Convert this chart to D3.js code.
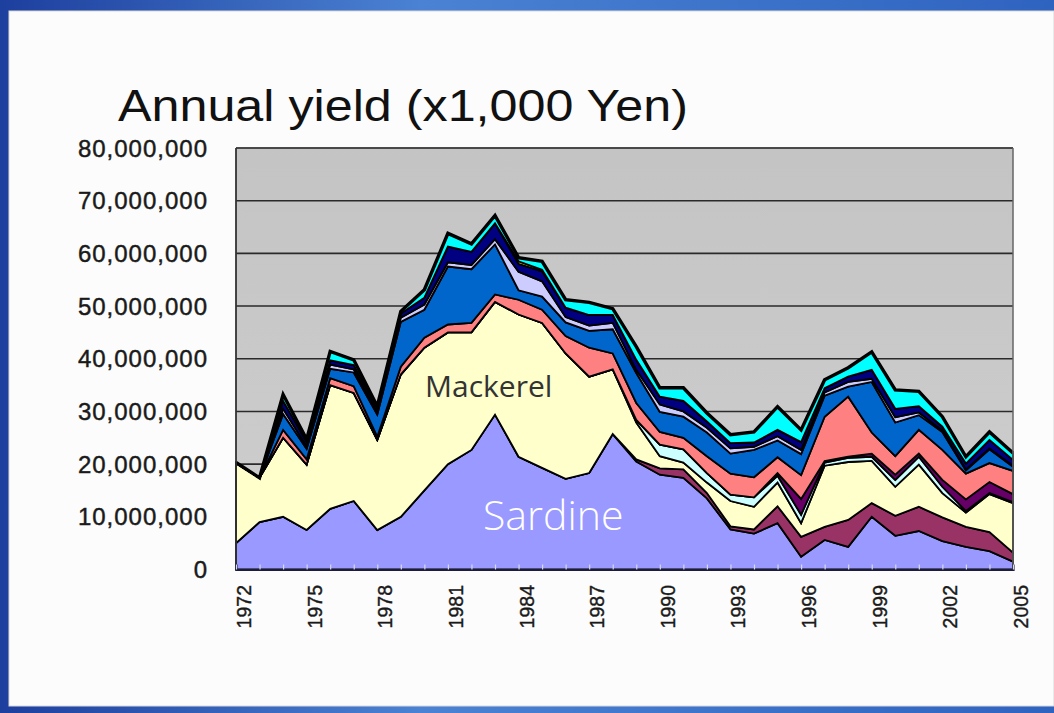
<!DOCTYPE html>
<html>
<head>
<meta charset="utf-8">
<script src="https://cdn.jsdelivr.net/npm/d3@7"></script>
<style>
  html, body { margin: 0; padding: 0; background: #2a55b5; }
  svg { display: block; }
  .ylab { font-family: "Liberation Sans", Arial, sans-serif; font-size: 24px; fill: #1a1a1a; stroke: #1a1a1a; stroke-width: 0.45px; letter-spacing: 1px; }
  .xlab { font-family: "Liberation Sans", Arial, sans-serif; font-size: 19.5px; fill: #1a1a1a; stroke: #1a1a1a; stroke-width: 0.4px; }
</style>
</head>
<body>
<script>
var width = 1054, height = 713;

// values in millions (axis is in x1,000 Yen)
var years = d3.range(1972, 2006);
var yTicks = [0, 10e6, 20e6, 30e6, 40e6, 50e6, 60e6, 70e6, 80e6];
var xTickYears = [1972, 1975, 1978, 1981, 1984, 1987, 1990, 1993, 1996, 1999, 2002, 2005];

var sardine  = [5, 9, 10, 7.5, 11.5, 13, 7.5, 10, 15, 20, 22.7, 29.4, 21.4, 19.3, 17.2, 18.3, 25.7, 20.5, 18, 17.4, 13.5, 7.6, 6.8, 8.8, 2.4, 5.6, 4.3, 10, 6.4, 7.3, 5.4, 4.3, 3.5, 1.5];
var sp2      = [0, 0, 0, 0, 0, 0, 0, 0, 0, 0, 0, 0, 0, 0, 0, 0, 0, 0.4, 1.2, 1.6, 1.0, 0.6, 0.8, 3.2, 3.8, 2.5, 5.1, 2.6, 3.8, 4.6, 4.5, 3.8, 3.6, 1.7];
var mackerel = [15.2, 8.4, 15, 12.4, 23.5, 20.5, 17.1, 27, 27.1, 25, 22.3, 21.4, 27, 27.5, 23.8, 18.3, 12.3, 7, 2.3, 1.3, 2, 4.8, 4.3, 4.5, 2.6, 11.6, 11, 8, 5.5, 8, 4.6, 2.7, 7.2, 9.4];
var sp4      = [0, 0, 0, 0, 0, 0, 0, 0, 0, 0, 0, 0, 0, 0, 0, 0, 0, 0.5, 2.2, 2.5, 1.8, 1.2, 1.8, 1.3, 1.6, 0.6, 0.8, 0.8, 1.3, 1.5, 1.2, 0.3, 0.2, 0.2];
var sp5      = [0, 0, 0, 0, 0, 0, 0, 0, 0, 0, 0, 0, 0, 0, 0, 0, 0, 0, 0, 0, 0, 0, 0, 0.5, 3.0, 0.3, 0.2, 0.6, 1.0, 0.6, 1.3, 2.2, 2.1, 1.5];
var sp6      = [0, 0, 1.5, 1, 1.3, 1.3, 0.6, 1.5, 1.9, 1.5, 1.8, 1.4, 2.8, 2.5, 3.3, 5.5, 3, 3.2, 2.4, 2.2, 3.2, 4, 3.8, 3, 4.5, 8.4, 11.4, 4, 3.5, 4.5, 5.7, 4.9, 3.6, 4.4];
var sp7      = [0, 0, 3, 2, 1.8, 2.6, 4.2, 8.5, 5.3, 11, 10.2, 9.5, 1.8, 2.5, 2.6, 3.2, 4.6, 5.7, 3.8, 4, 4.5, 3.8, 5.2, 3.2, 4, 4, 1.9, 9.6, 6.4, 2.8, 3.4, 0.6, 2.6, 0.8];
var sp8      = [0, 0, 1, 0.5, 0.8, 0.6, 0.4, 0.8, 1, 0.8, 0.8, 1, 3.5, 2.9, 1, 1, 1.2, 0.6, 1.4, 1, 0.9, 1, 0.6, 0.8, 0.8, 0.6, 0.9, 0.6, 1, 0.5, 0.3, 0.2, 0.2, 0.2];
var sp9      = [0, 0, 1.5, 0.8, 0.8, 0.8, 0.8, 0.8, 1.3, 3, 2.5, 3, 1.5, 1.9, 1.8, 2, 1.5, 1.9, 1.5, 2, 1.2, 1, 0.8, 1.2, 1.5, 0.8, 1, 1.7, 1.6, 1.2, 0.7, 1.1, 1.6, 1.1];
var sp11     = [0, 0, 0, 0, 0, 0, 0, 0, 0, 0, 0, 0, 0.5, 0.3, 0, 0, 0, 0, 0, 0, 0, 0, 0, 0, 0, 0, 0, 0, 0, 0, 0, 0, 0, 0];
var sp12     = [0.1, 0, 1.2, 0.5, 1.7, 1, 0.4, 0.4, 1.5, 2.5, 1.5, 1.5, 0.7, 1.6, 1.5, 2.4, 1.2, 2.5, 1.7, 2.5, 1.6, 1.6, 2.0, 4.4, 2.3, 1.6, 1.7, 3.4, 3.6, 2.8, 1.9, 1.3, 1.5, 1.3];

var seriesNames = ["sardine", "sp2", "mackerel", "sp4", "sp5", "sp6", "sp7", "sp8", "sp9", "sp11", "sp12"];
var seriesValues = [sardine, sp2, mackerel, sp4, sp5, sp6, sp7, sp8, sp9, sp11, sp12];
var seriesColors = ["#9999FF", "#993366", "#FFFFCC", "#CCFFFF", "#660066", "#FF8080", "#0066CC", "#CCCCFF", "#000080", "#FFFF00", "#00FFFF"];

var table = years.map(function(yr, i) {
  var row = {year: yr};
  seriesNames.forEach(function(k, j) { row[k] = seriesValues[j][i] * 1e6; });
  return row;
});

var svg = d3.select("body").append("svg")
    .attr("width", width)
    .attr("height", height);

var defs = svg.append("defs");
var bg = defs.append("linearGradient").attr("id", "bg").attr("x1", 0).attr("x2", 1).attr("y1", 0).attr("y2", 0);
bg.append("stop").attr("offset", "0%").attr("stop-color", "#1d3f9e");
bg.append("stop").attr("offset", "40%").attr("stop-color", "#4b82d3");
bg.append("stop").attr("offset", "100%").attr("stop-color", "#2f63c0");
var pg = defs.append("linearGradient").attr("id", "plotbg").attr("x1", 0).attr("x2", 0).attr("y1", 0).attr("y2", 1);
pg.append("stop").attr("offset", "0%").attr("stop-color", "#c4c4c4");
pg.append("stop").attr("offset", "100%").attr("stop-color", "#cecece");

// blue frame + white slide panel
svg.append("rect").attr("width", width).attr("height", height).attr("fill", "url(#bg)");
svg.append("rect")
    .attr("x", 9).attr("y", 11)
    .attr("width", width - 9).attr("height", 695)
    .attr("fill", "#fcfcfc")
    .attr("stroke", "#d8d8d8");

var margin = {top: 148, right: 1054 - 1013, bottom: 713 - 569.5, left: 236};

var x = d3.scaleLinear()
    .domain([1972, 2005])
    .range([margin.left, width - margin.right]);

var y = d3.scaleLinear()
    .domain([0, 80e6])
    .range([height - margin.bottom, margin.top]);

// plot area
svg.append("rect")
    .attr("x", x(1972)).attr("y", y(80e6))
    .attr("width", x(2005) - x(1972)).attr("height", y(0) - y(80e6))
    .attr("fill", "url(#plotbg)");

// gridlines
svg.append("g")
  .selectAll("line").data(yTicks.slice(1)).enter().append("line")
    .attr("x1", x(1972)).attr("x2", x(2005))
    .attr("y1", d => y(d)).attr("y2", d => y(d))
    .attr("stroke", "#2a2a2a")
    .attr("stroke-width", 1.6);

var stack = d3.stack().keys(seriesNames);
var layers = stack(table);

var area = d3.area()
    .x(d => x(d.data.year))
    .y0(d => y(d[0]))
    .y1(d => y(d[1]));

svg.append("g")
  .selectAll("path").data(layers).enter().append("path")
    .attr("d", area)
    .attr("fill", (d, i) => seriesColors[i])
    .attr("stroke", "#000")
    .attr("stroke-width", 1.8)
    .attr("stroke-linejoin", "miter");

// thicker outline on top of the stack
var topLine = d3.line()
    .x(d => x(d.data.year))
    .y(d => y(d[1]));
svg.append("path")
    .datum(layers[layers.length - 1])
    .attr("d", topLine)
    .attr("fill", "none")
    .attr("stroke", "#000")
    .attr("stroke-width", 3.4);

// plot border
svg.append("line").attr("x1", x(1972)).attr("x2", x(2005)).attr("y1", y(80e6)).attr("y2", y(80e6))
    .attr("stroke", "#444").attr("stroke-width", 1.5);
svg.append("line").attr("x1", x(2005)).attr("x2", x(2005)).attr("y1", y(80e6)).attr("y2", y(0))
    .attr("stroke", "#666").attr("stroke-width", 1.5);
svg.append("line").attr("x1", x(1972)).attr("x2", x(1972)).attr("y1", y(80e6)).attr("y2", y(0))
    .attr("stroke", "#333").attr("stroke-width", 1.8);

// x axis with small inward ticks at each year
var xAxis = g => g
    .attr("transform", `translate(0,${y(0)})`)
    .call(d3.axisBottom(x).tickValues(years).tickSize(-5).tickFormat(""))
    .call(g => g.selectAll(".tick line").attr("stroke", "#d8d8ee").attr("stroke-width", 1.2))
    .call(g => g.select(".domain").attr("stroke", "#1c1c3c").attr("stroke-width", 2.2));
svg.append("g").call(xAxis);

svg.append("g")
  .selectAll("text").data(xTickYears).enter().append("text")
    .attr("class", "xlab")
    .attr("transform", d => `translate(${x(d) + 15},585) rotate(-90)`)
    .attr("text-anchor", "end")
    .text(d => d);

svg.append("g")
  .selectAll("text").data(yTicks).enter().append("text")
    .attr("class", "ylab")
    .attr("x", 208)
    .attr("y", d => y(d))
    .attr("dy", "0.36em")
    .attr("text-anchor", "end")
    .text(d3.format(","));

// title
svg.append("text")
    .attr("x", 118).attr("y", 121)
    .attr("font-family", "'Liberation Sans', Arial, sans-serif")
    .attr("font-size", 44)
    .attr("fill", "#111")
    .attr("textLength", 570)
    .attr("lengthAdjust", "spacingAndGlyphs")
    .text("Annual yield (x1,000 Yen)");

// species labels
svg.append("text")
    .attr("x", 425).attr("y", 397)
    .attr("font-family", "'Open Sans', 'Noto Sans', sans-serif")
    .attr("font-size", 30)
    .attr("fill", "#333")
    .text("Mackerel");

svg.append("text")
    .attr("x", 483).attr("y", 530)
    .attr("font-family", "'Open Sans', 'Noto Sans', sans-serif")
    .attr("font-weight", 300)
    .attr("font-size", 41)
    .attr("fill", "#ffffff")
    .text("Sardine");
</script>
</body>
</html>
